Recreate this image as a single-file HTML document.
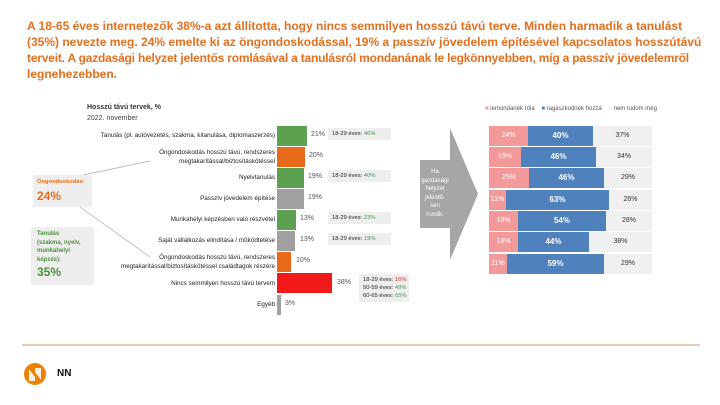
<!DOCTYPE html>
<html><head><meta charset="utf-8"><style>
body{margin:0;width:720px;height:405px;background:#fff;position:relative;overflow:hidden;font-family:"Liberation Sans",sans-serif;}
.a{position:absolute;white-space:nowrap;}
.t{left:27px;font-size:12px;font-weight:bold;color:#e3701f;line-height:16px;}
.lab{position:absolute;right:445px;font-size:6.3px;color:#222;text-align:right;line-height:9px;white-space:nowrap;}
.bar{position:absolute;left:277px;height:20px;}
.pct{position:absolute;font-size:7px;color:#555;}
.note{position:absolute;background:#eee;font-size:5.8px;color:#222;padding:2px 4px;line-height:8px;white-space:nowrap;}
.g{color:#3a9a4a}.r{color:#e02020}
.sb{position:absolute;height:20px;font-size:7px;text-align:center;line-height:20px;}
</style></head><body>
<div class="a t" style="top:18px">A 18-65 éves internetezők 38%-a azt állította, hogy nincs semmilyen hosszú távú terve. Minden harmadik a tanulást</div>
<div class="a t" style="top:34px">(35%) nevezte meg. 24% emelte ki az öngondoskodással, 19% a passzív jövedelem építésével kapcsolatos hosszútávú</div>
<div class="a t" style="top:50px;letter-spacing:-0.2px">terveit. A gazdasági helyzet jelentős romlásával a tanulásról mondanának le legkönnyebben, míg a passzív jövedelemről</div>
<div class="a t" style="top:66px">legnehezebben.</div>

<div class="a" style="left:87px;top:104px;font-size:7px;font-weight:bold;color:#333">Hosszú távú tervek, %</div>
<div class="a" style="left:87px;top:115px;font-size:7px;color:#444">2022. november</div>

<div class="lab" style="top:131px">Tanulás (pl. autóvezetés, szakma, kitanulása, diplomaszerzés)</div>
<div class="lab" style="top:148px">Öngondoskodás hosszú távú, rendszeres<br>megtakarítással/biztosításkötéssel</div>
<div class="lab" style="top:173px">Nyelvtanulás</div>
<div class="lab" style="top:194px">Passzív jövedelem építése</div>
<div class="lab" style="top:215px">Munkahelyi képzésben való részvétel</div>
<div class="lab" style="top:236px">Saját vállalkozás elindítása / működtetése</div>
<div class="lab" style="top:253px">Öngondoskodás hosszú távú, rendszeres<br>megtakarítással/biztosításkötéssel családtagok részére</div>
<div class="lab" style="top:279px">Nincs semmilyen hosszú távú tervem</div>
<div class="lab" style="top:300px">Egyéb</div>

<div class="bar" style="top:126px;width:30px;background:#5ba150"></div>
<div class="bar" style="top:147px;width:28px;background:#e86b1c"></div>
<div class="bar" style="top:168px;width:27px;background:#5ba150"></div>
<div class="bar" style="top:189px;width:27px;background:#a0a0a0"></div>
<div class="bar" style="top:210px;width:19px;background:#5ba150"></div>
<div class="bar" style="top:231px;width:18px;background:#a0a0a0"></div>
<div class="bar" style="top:252px;width:14px;background:#e86b1c"></div>
<div class="bar" style="top:273px;width:55px;background:#f21a1a"></div>
<div class="bar" style="top:295px;width:4px;background:#a0a0a0"></div>

<div class="pct" style="left:311px;top:131px">21%</div>
<div class="pct" style="left:309px;top:152px">20%</div>
<div class="pct" style="left:308px;top:173px">19%</div>
<div class="pct" style="left:308px;top:194px">19%</div>
<div class="pct" style="left:300px;top:215px">13%</div>
<div class="pct" style="left:300px;top:236px">13%</div>
<div class="pct" style="left:296px;top:257px">10%</div>
<div class="pct" style="left:337px;top:279px">38%</div>
<div class="pct" style="left:285px;top:300px">3%</div>

<div class="note" style="left:328px;top:128px;width:55px">18-29 éves: <span class="g">46%</span></div>
<div class="note" style="left:328px;top:170px;width:55px">18-29 éves: <span class="g">40%</span></div>
<div class="note" style="left:328px;top:212px;width:55px">18-29 éves: <span class="g">23%</span></div>
<div class="note" style="left:328px;top:233px;width:55px">18-29 éves: <span class="g">19%</span></div>
<div class="note" style="left:359px;top:274px;width:42px">18-29 éves: <span class="r">16%</span><br>50-59 éves: <span class="g">49%</span><br>60-65 éves: <span class="g">65%</span></div>

<svg class="a" style="left:0;top:0" width="720" height="405">
<line x1="83" y1="175" x2="150" y2="161" stroke="#aaa" stroke-width="0.7"/>
<line x1="80" y1="207" x2="150" y2="257" stroke="#aaa" stroke-width="0.7"/>
<polygon points="420,160 450,160 450,128 478,194 450,260 450,228 420,228" fill="#a6a6a6"/>
<line x1="22" y1="345" x2="700" y2="345" stroke="#c07a40" stroke-width="0.8"/>
<circle cx="35" cy="374" r="11" fill="#ee7f00"/>
<path d="M29 381 L29 369 L35 377 L35 368 L41 368 L41 380 L35 372 L35 381Z" fill="#fff" opacity="0.9"/>
</svg>
<div class="a" style="left:57px;top:368px;font-size:10px;font-weight:bold;color:#111">NN</div>

<div class="a" style="left:33px;top:175px;width:59px;height:32px;background:#eee"></div>
<div class="a" style="left:37px;top:179px;font-size:5.8px;font-weight:bold;color:#e86b1c">Öngondoskodás:</div>
<div class="a" style="left:37px;top:189px;font-size:12px;font-weight:bold;color:#e86b1c">24%</div>
<div class="a" style="left:31px;top:227px;width:63px;height:58px;background:#eee"></div>
<div class="a" style="left:37px;top:230px;font-size:6px;font-weight:bold;color:#4c8f3c;line-height:8.5px">Tanulás<br>(szakma, nyelv,<br>munkahelyi<br>képzés):</div>
<div class="a" style="left:37px;top:265px;font-size:12px;font-weight:bold;color:#4c8f3c">35%</div>

<div class="a" style="left:420px;top:168px;width:30px;font-size:6px;color:#fff;text-align:center;line-height:8.5px">Ha<br>gazdasági<br>helyzet<br>jelentő-<br>sen<br>romlik:</div>

<div class="a" style="left:485px;top:106px;font-size:6px;color:#555"><span style="color:#f4999a">■</span> lemondanék róla &nbsp;&nbsp; <span style="color:#4f81bd">■</span> ragaszkodnék hozzá &nbsp;&nbsp; <span style="color:#eee">■</span> nem tudom még</div>

<div class="sb" style="left:489px;top:126px;width:39px;background:#f4999a;color:#fff">24%</div><div class="sb" style="left:528px;top:126px;width:65px;background:#4f81bd;color:#fff;font-weight:bold;font-size:8px">40%</div><div class="sb" style="left:593px;top:126px;width:59px;background:#f0f0f0;color:#333">37%</div>
<div class="sb" style="left:489px;top:147px;width:32px;background:#f4999a;color:#fff">19%</div><div class="sb" style="left:521px;top:147px;width:75px;background:#4f81bd;color:#fff;font-weight:bold;font-size:8px">46%</div><div class="sb" style="left:596px;top:147px;width:56px;background:#f0f0f0;color:#333">34%</div>
<div class="sb" style="left:489px;top:168px;width:40px;background:#f4999a;color:#fff">25%</div><div class="sb" style="left:529px;top:168px;width:75px;background:#4f81bd;color:#fff;font-weight:bold;font-size:8px">46%</div><div class="sb" style="left:604px;top:168px;width:48px;background:#f0f0f0;color:#333">29%</div>
<div class="sb" style="left:489px;top:190px;width:17px;background:#f4999a;color:#fff">11%</div><div class="sb" style="left:506px;top:190px;width:103px;background:#4f81bd;color:#fff;font-weight:bold;font-size:8px">63%</div><div class="sb" style="left:609px;top:190px;width:43px;background:#f0f0f0;color:#333">26%</div>
<div class="sb" style="left:489px;top:211px;width:29px;background:#f4999a;color:#fff">18%</div><div class="sb" style="left:518px;top:211px;width:88px;background:#4f81bd;color:#fff;font-weight:bold;font-size:8px">54%</div><div class="sb" style="left:606px;top:211px;width:46px;background:#f0f0f0;color:#333">28%</div>
<div class="sb" style="left:489px;top:232px;width:29px;background:#f4999a;color:#fff">18%</div><div class="sb" style="left:518px;top:232px;width:71px;background:#4f81bd;color:#fff;font-weight:bold;font-size:8px">44%</div><div class="sb" style="left:589px;top:232px;width:63px;background:#f0f0f0;color:#333">38%</div>
<div class="sb" style="left:489px;top:254px;width:18px;background:#f4999a;color:#fff">11%</div><div class="sb" style="left:507px;top:254px;width:97px;background:#4f81bd;color:#fff;font-weight:bold;font-size:8px">59%</div><div class="sb" style="left:604px;top:254px;width:48px;background:#f0f0f0;color:#333">29%</div>
</body></html>
